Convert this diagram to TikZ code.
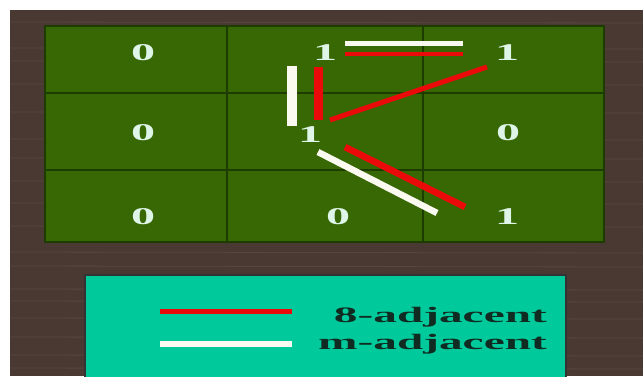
\documentclass[tikz,border=0pt]{standalone}
\usepackage{fontspec}
\setmainfont{Liberation Serif}
\usepackage{graphicx}
\newcommand{\widetext}[1]{\scalebox{2.15}[1]{#1}}
\newcommand{\widedigit}[1]{\scalebox{2.0}[1]{#1}}
\definecolor{wood}{RGB}{74,57,50}
\definecolor{woodlight}{RGB}{98,80,70}
\definecolor{cellgreen}{RGB}{56,104,4}
\definecolor{gridline}{RGB}{28,60,0}
\definecolor{digitc}{RGB}{222,245,232}
\definecolor{legendteal}{RGB}{0,202,155}
\definecolor{legendtext}{RGB}{16,44,34}
\definecolor{adjred}{RGB}{235,10,10}
\definecolor{adjwhite}{RGB}{250,250,240}
\tikzset{
  digit/.style={inner sep=0pt, text=digitc, font=\fontsize{24}{24}\selectfont\bfseries},
  legendlabel/.style={inner sep=0pt, text=legendtext, font=\fontsize{22}{22}\selectfont\bfseries},
  redline/.style={draw=adjred},
  whiteline/.style={draw=adjwhite},
  gridrule/.style={draw=gridline, line width=1.6pt},
  grain/.style={draw=woodlight, line width=0.8pt, opacity=0.6}
}
\begin{document}
\begin{tikzpicture}[x=1pt,y=-1pt]
\useasboundingbox (0,0) rectangle (643,376);
\fill[white] (0,0) rectangle (643,376);
\fill[wood] (10,10) rectangle (643,376);
% wood grain
\foreach \yy in {22,48,61,84,112,139,158,181,203,226,252,266,289,301,318,337,355,368}{
  \draw[grain] (10,\yy) -- (643,\yy+1);
}
% grid
\fill[cellgreen] (45,26) rectangle (604,242);
\draw[gridline, line width=1.2pt] (45,26) rectangle (604,242);
\draw[gridrule] (227,26) -- (227,242);
\draw[gridrule] (423,26) -- (423,242);
\draw[gridrule] (45,93) -- (604,93);
\draw[gridrule] (45,170) -- (604,170);
% digits
\node[digit] (c11) at (143,53) {\widedigit{0}};
\node[digit] (c12) at (325,53) {\widedigit{1}};
\node[digit] (c13) at (507,53) {\widedigit{1}};
\node[digit] (c21) at (143,133) {\widedigit{0}};
\node[digit] (c22) at (310,135) {\widedigit{1}};
\node[digit] (c23) at (508,133) {\widedigit{0}};
\node[digit] (c31) at (143,217) {\widedigit{0}};
\node[digit] (c32) at (338,217) {\widedigit{0}};
\node[digit] (c33) at (507,217) {\widedigit{1}};
% adjacency line end points
\coordinate (wTa) at (345,43);  \coordinate (wTb) at (463,43);
\coordinate (rTa) at (345,54);  \coordinate (rTb) at (463,54);
\coordinate (wVa) at (292,66);  \coordinate (wVb) at (292,126);
\coordinate (rVa) at (318,67);  \coordinate (rVb) at (318,120);
\coordinate (rDa) at (330,120); \coordinate (rDb) at (487,67);
\coordinate (wLa) at (318,152); \coordinate (wLb) at (437,213);
\coordinate (rLa) at (345,147); \coordinate (rLb) at (465,207);
\draw[whiteline, line width=5pt] (wTa) -- (wTb);
\draw[redline, line width=4.5pt] (rTa) -- (rTb);
\draw[whiteline, line width=10pt] (wVa) -- (wVb);
\draw[redline, line width=9pt] (rVa) -- (rVb);
\draw[redline, line width=5pt] (rDa) -- (rDb);
\draw[whiteline, line width=6.5pt] (wLa) -- (wLb);
\draw[redline, line width=6.5pt] (rLa) -- (rLb);
% legend box
\fill[legendteal] (85,275) rectangle (566,377);
\draw[black!80, line width=1.2pt] (85,377) -- (85,275) -- (566,275) -- (566,377);
\coordinate (lRa) at (160,311); \coordinate (lRb) at (292,311);
\coordinate (lWa) at (160,344); \coordinate (lWb) at (292,344);
\draw[redline, line width=5pt] (lRa) -- (lRb);
\draw[whiteline, line width=5.5pt] (lWa) -- (lWb);
\node[legendlabel, anchor=base east] (l8) at (547,322) {\widetext{8-adjacent}};
\node[legendlabel, anchor=base east] (lm) at (547,349) {\widetext{m-adjacent}};
\end{tikzpicture}
\end{document}
